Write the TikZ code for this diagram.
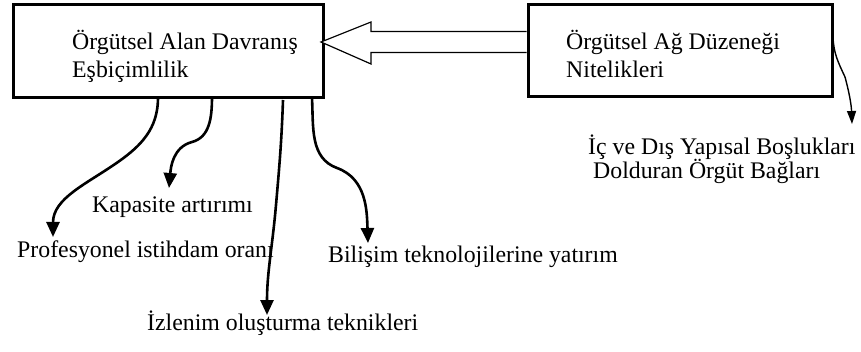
\documentclass[tikz,border=0pt]{standalone}
\usepackage{fontspec}
\setmainfont{Liberation Serif}
\usetikzlibrary{arrows.meta}
\begin{document}
\begin{tikzpicture}[x=1pt,y=-1pt,
  box/.style={draw,line width=3pt,rectangle,inner sep=0pt},
  lbl/.style={inner sep=0pt,anchor=base west,font=\fontsize{23.8}{28}\selectfont},
  link/.style={line width=2.6pt,-{Triangle[length=15pt,width=13pt]}},
  hollow/.style={draw,line width=1.2pt,line join=miter,fill=white}]
\useasboundingbox (0,0) rectangle (861,352);

% the two boxes
\node[box,minimum width=310pt,minimum height=93pt] (lbox) at (168,51.5) {};
\node[box,minimum width=304pt,minimum height=92pt] (rbox) at (680,51) {};

% box texts
\node[lbl] (l1) at (72,50) {Örgütsel Alan Davranış};
\node[lbl] (l2) at (72,78) {Eşbiçimlilik};
\node[lbl] (r1) at (566,50) {Örgütsel Ağ Düzeneği};
\node[lbl] (r2) at (566,78) {Nitelikleri};

% outer labels
\node[lbl] (bos1) at (588,155) {İç ve Dış Yapısal Boşlukları};
\node[lbl] (bos2) at (593,179) {Dolduran Örgüt Bağları};
\node[lbl] (kap) at (92,213) {Kapasite artırımı};
\node[lbl] (pro) at (17,258) {Profesyonel istihdam oranı};
\node[lbl] (bil) at (328,263) {Bilişim teknolojilerine yatırım};
\node[lbl] (izl) at (147,330) {İzlenim oluşturma teknikleri};

% hollow block arrow from the right box to the left box
\draw[hollow] (rbox.west |- 0,31.5) -- (371,31.5) -- (371,22) -- (321,42)
  -- (371,64) -- (371,52.5) -- (rbox.west |- 0,52.5);

% start points on the boxes and arrow tips above the labels
\coordinate (s1) at (158,99);
\coordinate (s2) at (212,99);
\coordinate (s3) at (283,100);
\coordinate (s4) at (312,98);
\coordinate (s5) at (833,37);
\coordinate (t1) at (53,237);
\coordinate (t2) at (169,188);
\coordinate (t3) at (267,315);
\coordinate (t4) at (368,243);
\coordinate (t5) at (852,124);

\draw[link] (s1) to[out=-91,in=35] (118,162) to[out=215,in=90] (t1);
\draw[link] (s2) to[out=-91,in=15] (192,142) to[out=195,in=85] (t2);
\draw[link] (s3) to[out=-92,in=85] (276,205) to[out=-95,in=90] (t3);
\draw[link] (s4) to[out=-87,in=160] (337,168) to[out=-20,in=92] (t4);
\draw[line width=1.4pt,-{Triangle[length=13pt,width=9pt]}] (s5) to[out=-88,in=115] (845,77) to[out=-75,in=92] (t5);
\end{tikzpicture}
\end{document}
